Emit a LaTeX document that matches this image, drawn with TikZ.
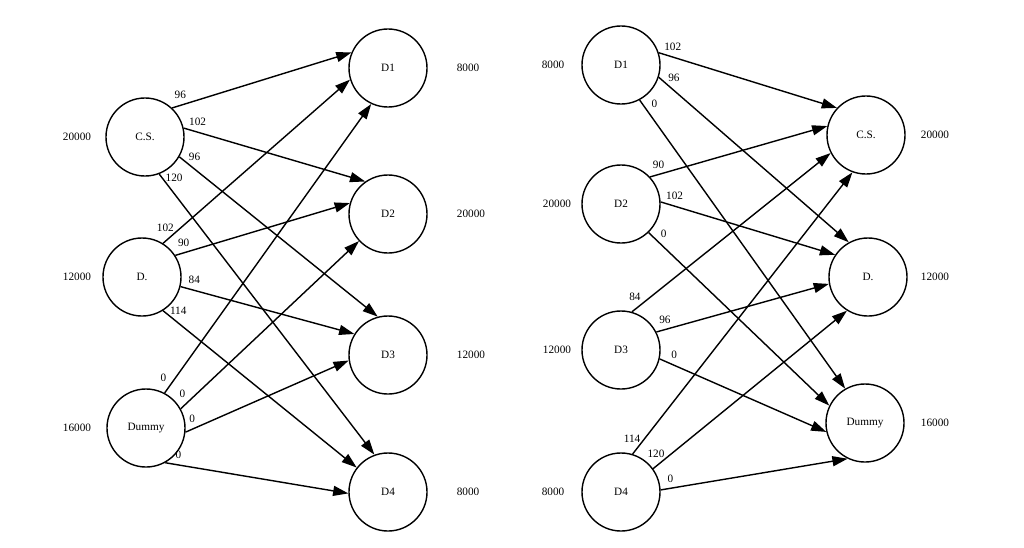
\documentclass[tikz,border=0pt]{standalone}
\usepackage{fontspec}
\setmainfont{Liberation Serif}
\usepackage{tikz}
\usetikzlibrary{arrows.meta,calc}

\tikzset{
  place/.style={draw, circle, line width=1pt, minimum size=1.95cm, inner sep=0pt, font=\footnotesize},
  arc/.style={-{Triangle[length=0.38cm,width=0.25cm]}, line width=1pt},
  cost/.style={inner sep=0pt, font=\footnotesize},
  amount/.style={font=\footnotesize}
}
% cost label next to the tail of an edge
\newcommand{\taillabel}[4]{\node[cost] (#1) at ($(#2)!0.38cm!40:(#3)$) {#4};}

\begin{document}
\begin{tikzpicture}[x=0.025cm, y=-0.025cm]
        \useasboundingbox (0,0) rectangle (1024,547);
        % left: sources and destinations
        \node[place] (lcs) at (145,137) {C.S.};
        \node[place] (ld) at (142,277) {D.};
        \node[place] (ldum) at (146,428) {Dummy};
        \node[place] (ld1) at (388,68) {D1};
        \node[place] (ld2) at (388,214) {D2};
        \node[place] (ld3) at (388,355) {D3};
        \node[place] (ld4) at (388,492) {D4};
        \node[amount] (lcsA) at (77,137) {20000};
        \node[amount] (ldA) at (77,277) {12000};
        \node[amount] (ldumA) at (77,428) {16000};
        \node[amount] (ld1A) at (468,68) {8000};
        \node[amount] (ld2A) at (471,214) {20000};
        \node[amount] (ld3A) at (471,355) {12000};
        \node[amount] (ld4A) at (468,492) {8000};
        % edges: target / leaving angle / arriving angle / cost
        \foreach \t/\a/\b/\c in {ld1/47/157/96,ld2/13/125/102,ld3/330/105/96,ld4/291/110/120}{
            \draw[arc] (lcs.\a) -- (\t.\b);
            \taillabel{lcs-\t}{lcs.\a}{\t.\b}{\c}}
        \foreach \t/\a/\b/\c in {ld1/58/197/102,ld2/33/164/90,ld3/346/148/84,ld4/302/142/114}{
            \draw[arc] (ld.\a) -- (\t.\b);
            \taillabel{ld-\t}{ld.\a}{\t.\b}{\c}}
        \foreach \t/\a/\b in {ld1/62/245,ld2/29/223,ld3/354/188,ld4/299/182}{
            \draw[arc] (ldum.\a) -- (\t.\b);
            \taillabel{ldum-\t}{ldum.\a}{\t.\b}{0}}
        % right: reversed problem
        \node[place] (rd1) at (621,65) {D1};
        \node[place] (rd2) at (621,204) {D2};
        \node[place] (rd3) at (621,350) {D3};
        \node[place] (rd4) at (621,492) {D4};
        \node[place] (rcs) at (866,135) {C.S.};
        \node[place] (rd) at (868,277) {D.};
        \node[place] (rdum) at (865,423) {Dummy};
        \node[amount] (rd1A) at (553,65) {8000};
        \node[amount] (rd2A) at (557,204) {20000};
        \node[amount] (rd3A) at (557,350) {12000};
        \node[amount] (rd4A) at (553,492) {8000};
        \node[amount] (rcsA) at (935,135) {20000};
        \node[amount] (rdA) at (935,277) {12000};
        \node[amount] (rdumA) at (935,423) {16000};
        \foreach \s/\a/\b/\c in {rd1/18/137/102,rd2/43/167/90,rd3/74/207/84,rd4/73/250/114}{
            \draw[arc] (\s.\a) -- (rcs.\b);
            \taillabel{\s-rcs}{\s.\a}{rcs.\b}{\c}}
        \foreach \s/\a/\b/\c in {rd1/342/119/96,rd2/3/146/102,rd3/27/190/96,rd4/36/238/120}{
            \draw[arc] (\s.\a) -- (rd.\b);
            \taillabel{\s-rd}{\s.\a}{rd.\b}{\c}}
        \foreach \s/\a/\b in {rd1/298/120,rd2/314/154,rd3/347/193,rd4/3/244}{
            \draw[arc] (\s.\a) -- (rdum.\b);
            \taillabel{\s-rdum}{\s.\a}{rdum.\b}{0}}
    \end{tikzpicture}
\end{document}
